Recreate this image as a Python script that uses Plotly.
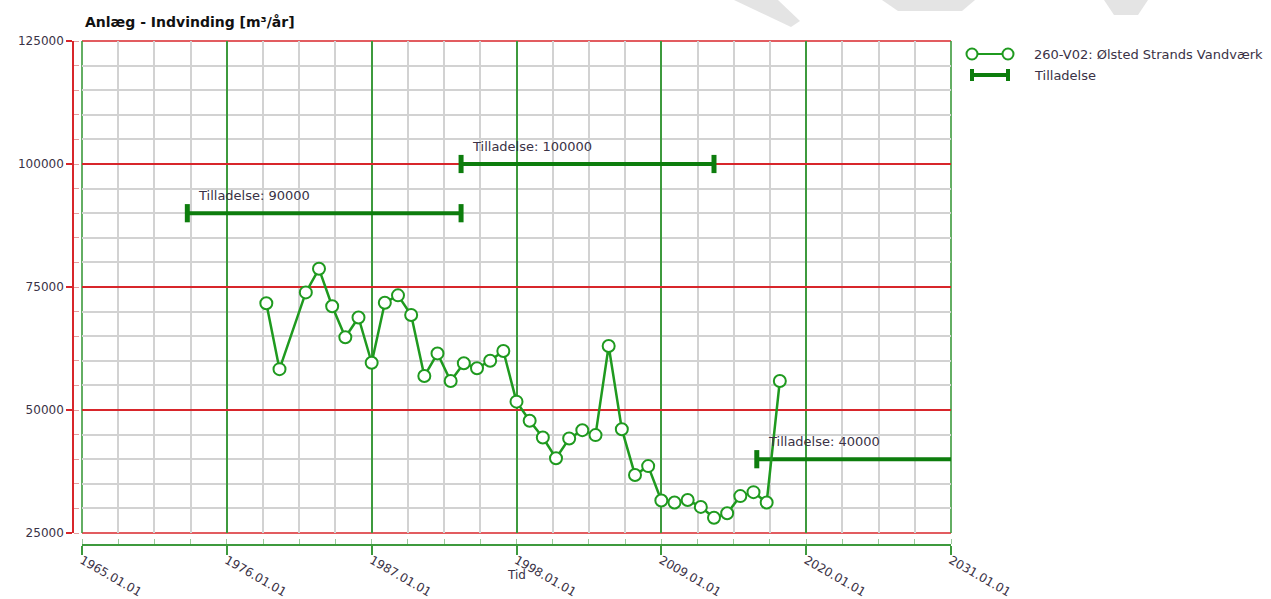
import plotly.graph_objects as go

# Annual abstraction, m3 per year
years = [1979, 1980, 1982, 1983, 1984, 1985, 1986, 1987, 1988, 1989,
         1990, 1991, 1992, 1993, 1994, 1995, 1996, 1997, 1998, 1999,
         2000, 2001, 2002, 2003, 2004, 2005, 2006, 2007, 2008, 2009,
         2010, 2011, 2012, 2013, 2014, 2015, 2016, 2017, 2018]
volumes = [71700, 58300, 73900, 78700, 71100, 64800, 68800, 59600, 71800, 73300,
           69300, 56900, 61500, 55900, 59500, 58500, 60000, 62000, 51700, 47800,
           44400, 40200, 44200, 45900, 44900, 63000, 46100, 36800, 38600, 31600,
           31200, 31700, 30300, 28100, 29000, 32500, 33300, 31200, 55900]

# Permits (start year, end year, permitted volume)
permit_start = [1973.0, 1993.79, 2016.25]
permit_end = [1993.79, 2013.0, 2040.0]
permit_value = [90000, 100000, 40000]

x_ticks = [1965, 1976, 1987, 1998, 2009, 2020, 2031]
x_ticktext = [f"{y}.01.01" for y in x_ticks]
y_ticks = [25000, 50000, 75000, 100000, 125000]

series_name = "260-V02: Ølsted Strands Vandværk"
permit_name = "Tilladelse"
title_text = "Anlæg - Indvinding [m³/år]"
x_title = "Tid"

W, H = 1271, 599
L, R, T, B = 73, 320, 41, 54
PW, PH = W - L - R, H - T - B

def px(xp):
    return (xp - L) / PW

def py(yp):
    return (H - B - yp) / PH

GREEN = "#1f9a1f"
DARK_GREEN = "#0d7d0d"
RED = "#d8262b"
AX_GREEN = "#3d9a3d"
GRID = "#d2d2d2"
TXT = "#3a3246"
FONT = "DejaVu Sans"

fig = go.Figure()

for s, e, v in zip(permit_start, permit_end, permit_value):
    fig.add_trace(go.Scatter(
        x=[s, e], y=[v, v], mode="lines+markers",
        line=dict(color=DARK_GREEN, width=4),
        marker=dict(symbol="line-ns", size=13,
                    line=dict(color=DARK_GREEN, width=5)),
        showlegend=False, hoverinfo="skip", cliponaxis=True))
    fig.add_annotation(x=s, y=v, xref="x", yref="y",
                       text=f"{permit_name}: {v}", showarrow=False,
                       xanchor="left", yanchor="middle",
                       xshift=9, yshift=18,
                       font=dict(family=FONT, size=13, color=TXT))

fig.add_trace(go.Scatter(
    x=years, y=volumes, mode="lines+markers", name=series_name,
    line=dict(color=GREEN, width=2.5),
    marker=dict(symbol="circle", size=12, color="white",
                line=dict(color=GREEN, width=2)),
    showlegend=False))

fig.update_layout(
    width=W, height=H,
    margin=dict(l=L, r=R, t=T, b=B, pad=0, autoexpand=False),
    paper_bgcolor="white", plot_bgcolor="white",
    font=dict(family=FONT, size=12, color=TXT),
    showlegend=False,
    xaxis=dict(
        domain=[px(82), 1], anchor="free", position=0, automargin=False,
        range=[1965, 2031], tickmode="array",
        tickvals=x_ticks, ticktext=x_ticktext, tickangle=30,
        showgrid=True, gridcolor=AX_GREEN, gridwidth=1.6,
        showline=True, linecolor=AX_GREEN, linewidth=1.6,
        ticks="outside", ticklen=9, tickcolor=AX_GREEN, tickwidth=1.6,
        ticklabelstandoff=-6,
        tickfont=dict(family=FONT, size=12, color=TXT),
        minor=dict(tick0=1965, dtick=2.75, showgrid=True, gridcolor=GRID,
                   gridwidth=1.5, ticks="inside", ticklen=5,
                   tickcolor="#9bc89b", tickwidth=1.2),
        zeroline=False, fixedrange=True,
    ),
    yaxis=dict(
        domain=[py(533), 1], anchor="free", position=0, automargin=False,
        range=[25000, 125000], tickmode="array", tickvals=y_ticks,
        tickformat="d",
        showgrid=True, gridcolor=RED, gridwidth=1.6,
        showline=True, linecolor=RED, linewidth=1.6,
        ticks="outside", ticklen=6, tickcolor=RED, tickwidth=1.6,
        tickfont=dict(family=FONT, size=12, color=TXT),
        minor=dict(dtick=5000, showgrid=True, gridcolor=GRID,
                   gridwidth=1.5, ticks="inside", ticklen=5,
                   tickcolor="#e0a0a0", tickwidth=1.2),
        zeroline=False, fixedrange=True,
    ),
)

# Chart title and axis title
fig.add_annotation(x=px(83), y=py(22), xref="paper", yref="paper",
                   text=f"<b>{title_text}</b>", showarrow=False,
                   xanchor="left", yanchor="middle",
                   font=dict(family=FONT, size=14, color="#111111"))
fig.add_annotation(x=px(516), y=py(575), xref="paper", yref="paper",
                   text=x_title, showarrow=False,
                   xanchor="center", yanchor="middle",
                   font=dict(family=FONT, size=12, color=TXT))

# Frame of the plotting area: red at the top and bottom, green at the sides
shapes = [
    dict(type="line", xref="x domain", yref="y domain", x0=0, x1=1, y0=0, y1=0,
         line=dict(color=RED, width=1.6), layer="below"),
    dict(type="line", xref="x domain", yref="y domain", x0=0, x1=1, y0=1, y1=1,
         line=dict(color=RED, width=1.6), layer="below"),
    dict(type="line", xref="x domain", yref="y domain", x0=0, x1=0, y0=0, y1=1,
         line=dict(color=AX_GREEN, width=1.6), layer="below"),
    dict(type="line", xref="x domain", yref="y domain", x0=1, x1=1, y0=0, y1=1,
         line=dict(color=AX_GREEN, width=1.6), layer="below"),
]

# Faint grey background strokes along the top edge of the page
def poly(pts):
    path = "M " + " L ".join(f"{px(a):.5f},{py(b):.5f}" for a, b in pts) + " Z"
    return dict(type="path", xref="paper", yref="paper", path=path,
                fillcolor="#e4e4e4", line=dict(width=0), layer="below")

shapes += [
    poly([(734, 0), (778, 0), (800, 21), (791, 27)]),
    poly([(882, 0), (975, 0), (962, 11), (898, 11)]),
    poly([(1104, 0), (1148, 0), (1138, 15), (1114, 15)]),
]

# Legend drawn beside the plot
lx0, lx1 = 972, 1008
shapes += [
    dict(type="line", xref="paper", yref="paper",
         x0=px(lx0), x1=px(lx1), y0=py(54), y1=py(54),
         line=dict(color=GREEN, width=2)),
    dict(type="line", xref="paper", yref="paper",
         x0=px(lx0), x1=px(lx1), y0=py(75), y1=py(75),
         line=dict(color=DARK_GREEN, width=4)),
]
for cx in (lx0, lx1):
    shapes.append(dict(type="circle", xref="paper", yref="paper",
                       x0=px(cx - 5.5), x1=px(cx + 5.5),
                       y0=py(54 + 5.5), y1=py(54 - 5.5),
                       fillcolor="white", line=dict(color=GREEN, width=2)))
    shapes.append(dict(type="line", xref="paper", yref="paper",
                       x0=px(cx), x1=px(cx), y0=py(69), y1=py(81),
                       line=dict(color=DARK_GREEN, width=4)))
fig.update_layout(shapes=shapes)
for ly, label in ((54, series_name), (75, permit_name)):
    fig.add_annotation(x=px(1032), y=py(ly), xref="paper", yref="paper",
                       text=label, showarrow=False,
                       xanchor="left", yanchor="middle",
                       font=dict(family=FONT, size=13, color=TXT))

fig.write_html("out.html")
